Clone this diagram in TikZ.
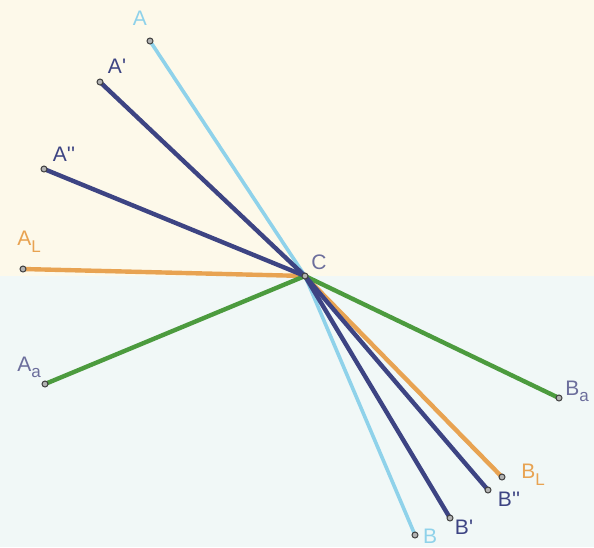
\documentclass[tikz,border=0pt]{standalone}
\usepackage{fontspec}
\setmainfont{Liberation Sans}
\begin{document}
\begin{tikzpicture}[x=1pt,y=-1pt,
  pt/.style={circle,draw=black!75,fill=gray!60,line width=1pt,inner sep=0pt,minimum size=6pt},
  seg/.style={line width=4.4pt,line cap=round,line join=round},
  lab/.style={font=\fontsize{21}{21}\selectfont,inner sep=0pt}]
\definecolor{cream}{HTML}{FDF9EA}
\definecolor{pale}{HTML}{F1F8F7}
\definecolor{lblue}{HTML}{8FD2EA}
\definecolor{navy}{HTML}{3D4483}
\definecolor{orng}{HTML}{E8A352}
\definecolor{grn}{HTML}{4C9B3E}
\definecolor{gblue}{HTML}{6C6E9C}
\fill[cream] (0,0) rectangle (594,276);
\fill[pale] (0,276) rectangle (594,547);
\useasboundingbox (0,0) rectangle (594,547);
\coordinate (A) at (150,41);
\coordinate (A1) at (100,82);
\coordinate (A2) at (44,169);
\coordinate (AL) at (23,269);
\coordinate (Aa) at (45,384);
\coordinate (C) at (305,276);
\coordinate (B) at (415,535);
\coordinate (B1) at (450,518);
\coordinate (B2) at (488,490);
\coordinate (BL) at (502,477);
\coordinate (Ba) at (559,398);
\draw[seg,lblue,line width=3.6pt] (A) -- (C) -- (B);
\draw[seg,orng] (AL) -- (C) -- (BL);
\draw[seg,grn] (Aa) -- (C) -- (Ba);
\draw[seg,navy] (A2) -- (C) -- (B2);
\draw[seg,navy] (A1) -- (C) -- (B1);
\foreach \p in {A,A1,A2,AL,Aa,C,B,B1,B2,BL,Ba} \node[pt] at (\p) {};
\node[lab,lblue] (lA) at (140,18) {A};
\node[lab,navy] (lA1) at (117,66) {A\textquotesingle};
\node[lab,navy] (lA2) at (64,154) {A\textquotesingle\textquotesingle};
\node[lab,orng] (lAL) at (29,242) {A\raisebox{-7pt}{\fontsize{17}{17}\selectfont L}};
\node[lab,gblue] (lAa) at (29,367) {A\raisebox{-6pt}{\fontsize{17}{17}\selectfont a}};
\node[lab,gblue] (lC) at (319,262) {C};
\node[lab,lblue] (lB) at (430,536) {B};
\node[lab,navy] (lB1) at (464,527) {B\textquotesingle};
\node[lab,navy] (lB2) at (509,499) {B\textquotesingle\textquotesingle};
\node[lab,orng] (lBL) at (533,475) {B\raisebox{-7pt}{\fontsize{17}{17}\selectfont L}};
\node[lab,gblue] (lBa) at (577,391) {B\raisebox{-6pt}{\fontsize{17}{17}\selectfont a}};
\end{tikzpicture}
\end{document}
